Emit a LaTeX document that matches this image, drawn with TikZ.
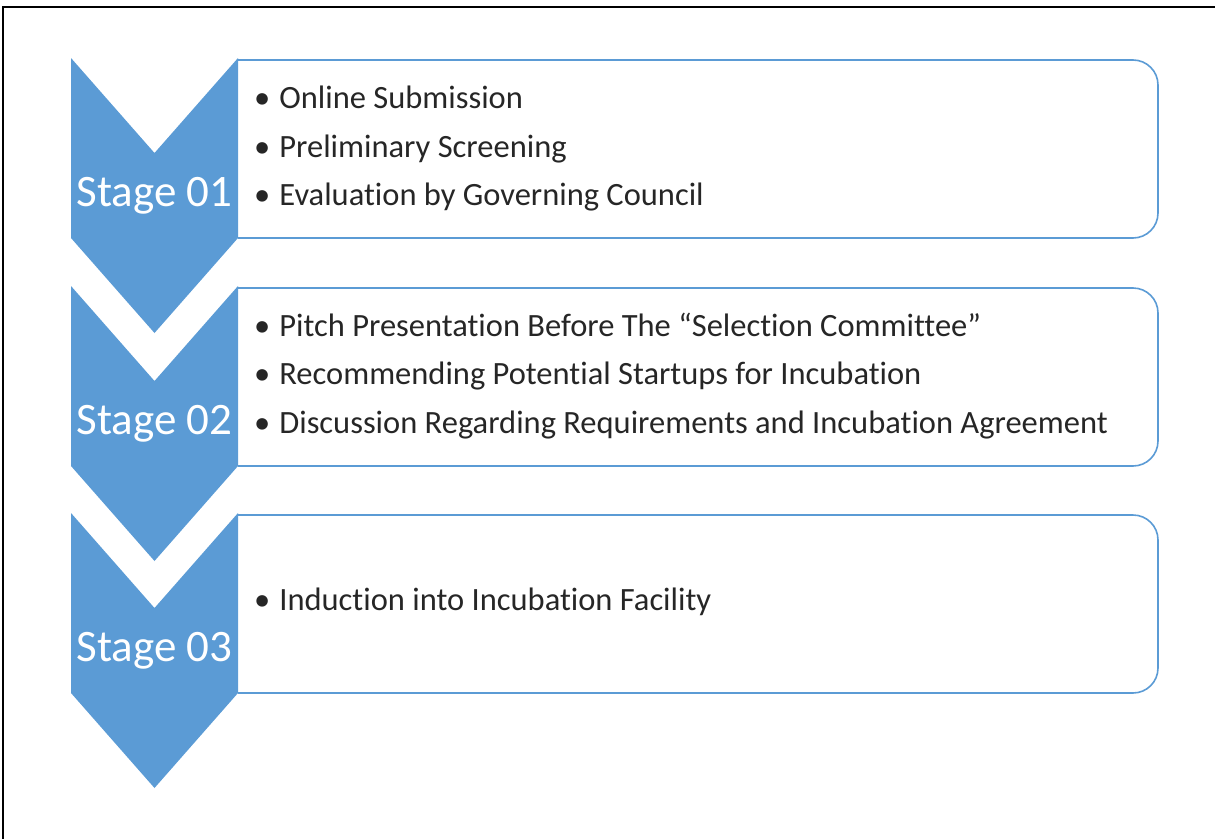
\documentclass[tikz,border=0pt]{standalone}
\usepackage{fontspec}
\setmainfont[Ligatures=NoCommon]{Carlito}
\usepackage{tikz}
\definecolor{stageblue}{HTML}{5B9BD5}
\definecolor{itemgray}{HTML}{262626}
\tikzset{
  chevron/.style={fill=stageblue,draw=none},
  boxline/.style={draw=stageblue,line width=1.6pt,rounded corners=25pt},
  stagelabel/.style={text=white,font=\fontsize{45}{50}\selectfont,inner sep=0pt},
  itemlist/.style={anchor=west,align=left,text=itemgray,inner sep=0pt,
    font=\fontsize{32.5}{48.5}\selectfont}
}
\begin{document}
\begin{tikzpicture}[x=1pt,y=-1pt]
\useasboundingbox (0,0) rectangle (1215,838);
\draw[line width=1.2pt] (3,840) -- (3,7) -- (1216,7);
% stage 01
\begin{scope}[shift={(71,58)}]
\draw[boxline] (167,2) -- (1087,2) -- (1087,180) -- (167,180);
\fill[chevron] (0,0) -- (83.5,95) -- (167,0) -- (167,180) -- (83.5,275) -- (0,180) -- cycle;
\node[stagelabel] (s1) at (83.5,138) {Stage 01};
\node[itemlist] (l1) at (183,91) {•\hspace{9pt}Online Submission\\
  •\hspace{9pt}Preliminary Screening\\
  •\hspace{9pt}Evaluation by Governing Council};
\end{scope}
% stage 02
\begin{scope}[shift={(71,286)}]
\draw[boxline] (167,2) -- (1087,2) -- (1087,180) -- (167,180);
\fill[chevron] (0,0) -- (83.5,95) -- (167,0) -- (167,180) -- (83.5,275) -- (0,180) -- cycle;
\node[stagelabel] (s2) at (83.5,138) {Stage 02};
\node[itemlist] (l2) at (183,90) {•\hspace{9pt}Pitch Presentation Before The “Selection Committee”\\
  •\hspace{9pt}Recommending Potential Startups for Incubation\\
  •\hspace{9pt}Discussion Regarding Requirements and Incubation Agreement};
\end{scope}
% stage 03
\begin{scope}[shift={(71,513)}]
\draw[boxline] (167,2) -- (1087,2) -- (1087,180) -- (167,180);
\fill[chevron] (0,0) -- (83.5,95) -- (167,0) -- (167,180) -- (83.5,275) -- (0,180) -- cycle;
\node[stagelabel] (s3) at (83.5,138) {Stage 03};
\node[itemlist] (l3) at (183,89) {•\hspace{9pt}Induction into Incubation Facility};
\end{scope}
\end{tikzpicture}
\end{document}
